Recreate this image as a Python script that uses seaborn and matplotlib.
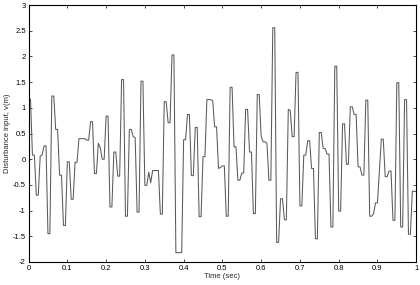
import numpy as np
import pandas as pd
import matplotlib
matplotlib.use("Agg")
import matplotlib.pyplot as plt
import seaborn as sns

# ===== DATA =====
time_s = [
    0.000, 0.005, 0.010, 0.015, 0.020, 0.025, 0.030, 0.035, 0.040, 0.045,
    0.050, 0.055, 0.060, 0.065, 0.070, 0.075, 0.080, 0.085, 0.090, 0.095,
    0.100, 0.105, 0.110, 0.115, 0.120, 0.125, 0.130, 0.145, 0.150, 0.155,
    0.160, 0.165, 0.170, 0.175, 0.180, 0.185, 0.190, 0.195, 0.200, 0.205,
    0.210, 0.215, 0.220, 0.225, 0.230, 0.235, 0.240, 0.245, 0.250, 0.255,
    0.260, 0.265, 0.270, 0.275, 0.280, 0.285, 0.290, 0.295, 0.300, 0.305,
    0.310, 0.315, 0.320, 0.335, 0.340, 0.345, 0.350, 0.355, 0.360, 0.365,
    0.370, 0.375, 0.380, 0.395, 0.400, 0.405, 0.410, 0.415, 0.420, 0.425,
    0.430, 0.435, 0.440, 0.445, 0.450, 0.455, 0.460, 0.470, 0.475, 0.480,
    0.485, 0.490, 0.495, 0.500, 0.505, 0.510, 0.515, 0.520, 0.525, 0.530,
    0.535, 0.540, 0.545, 0.550, 0.555, 0.560, 0.565, 0.570, 0.575, 0.580,
    0.585, 0.590, 0.595, 0.600, 0.605, 0.610, 0.615, 0.620, 0.625, 0.630,
    0.635, 0.640, 0.645, 0.650, 0.655, 0.660, 0.665, 0.670, 0.675, 0.680,
    0.685, 0.690, 0.695, 0.700, 0.705, 0.710, 0.715, 0.720, 0.725, 0.730,
    0.735, 0.740, 0.745, 0.750, 0.755, 0.760, 0.765, 0.770, 0.775, 0.780,
    0.785, 0.790, 0.795, 0.800, 0.805, 0.810, 0.815, 0.820, 0.825, 0.830,
    0.835, 0.840, 0.845, 0.850, 0.855, 0.860, 0.865, 0.870, 0.875, 0.880,
    0.885, 0.890, 0.895, 0.900, 0.910, 0.915, 0.920, 0.925, 0.930, 0.935,
    0.940, 0.945, 0.950, 0.955, 0.960, 0.965, 0.970, 0.975, 0.980, 0.985,
    0.990, 1.000,
]
disturbance = [
    1.17, 1.17, 0.08, 0.08, -0.70, -0.70, 0.06, 0.08, 0.26, 0.26,
    -1.45, -1.45, 1.23, 1.23, 0.58, 0.58, -0.31, -0.31, -1.29, -1.29,
    -0.05, -0.05, -0.78, -0.78, -0.06, -0.06, 0.40, 0.40, 0.37, 0.37,
    0.73, 0.73, -0.28, -0.28, 0.31, 0.22, 0.00, 0.00, 0.84, 0.84,
    -0.93, -0.93, 0.14, 0.14, -0.33, -0.33, 1.55, 1.55, -1.11, -1.11,
    0.58, 0.58, 0.44, 0.42, -1.03, -1.03, 1.52, 1.52, -0.51, -0.51,
    -0.25, -0.46, -0.22, -0.22, -1.07, -1.07, 1.12, 1.12, 0.71, 0.71,
    2.03, 2.03, -1.82, -1.82, 0.38, 0.38, 0.87, 0.87, -0.32, -0.32,
    0.62, 0.62, -1.12, -1.12, 0.05, 0.05, 1.16, 1.16, 1.14, 0.63,
    0.63, -0.18, -0.16, -0.13, -0.13, -1.11, -1.11, 1.40, 1.40, 0.24,
    0.24, -0.41, -0.41, -0.27, -0.27, 0.97, 0.97, 0.14, 0.14, -1.06,
    -1.06, 1.26, 1.26, 0.45, 0.34, 0.34, 0.31, -0.41, -0.41, 2.56,
    2.56, -1.62, -1.62, -0.77, -0.77, -1.18, -1.18, 0.97, 0.95, 0.44,
    0.44, 1.69, 1.69, -0.91, -0.91, 0.08, 0.08, 0.36, 0.36, -0.18,
    -0.18, -1.55, -1.55, 0.52, 0.52, 0.21, 0.21, 0.10, 0.10, -1.32,
    -1.32, 1.81, 1.81, -1.01, -1.01, 0.69, 0.69, -0.10, -0.10, 1.02,
    1.02, 0.87, 0.87, -0.15, -0.15, -0.31, -0.31, 1.15, 1.15, -1.11,
    -1.11, -1.06, -0.85, -0.85, 0.39, 0.39, -0.34, -0.34, -0.23, -0.23,
    -1.19, -1.19, 1.49, 1.49, -1.32, -1.32, 1.16, 1.16, -1.46, -1.46,
    -0.62, -0.63,
]
x_ticks = [0, 0.1, 0.2, 0.3, 0.4, 0.5, 0.6, 0.7, 0.8, 0.9, 1]
x_tick_labels = ["0", "0.1", "0.2", "0.3", "0.4", "0.5", "0.6", "0.7", "0.8", "0.9", "1"]
y_ticks = [-2, -1.5, -1, -0.5, 0, 0.5, 1, 1.5, 2, 2.5, 3]
y_tick_labels = ["-2", "-1.5", "-1", "-0.5", "0", "0.5", "1", "1.5", "2", "2.5", "3"]

df = pd.DataFrame({"Time": time_s, "Disturbance": disturbance})

sns.set_theme(style="ticks")
plt.rcParams["font.family"] = ["Liberation Sans", "DejaVu Sans"]

fig = plt.figure(figsize=(4.2, 2.85), dpi=100)
ax = fig.add_axes([0.068, 0.081, 0.923, 0.901])

# the signal, drawn as one grey trace
sns.lineplot(data=df, x="Time", y="Disturbance", ax=ax, sort=False,
             estimator=None, color="#5a5a5a", linewidth=0.75)

ax.set_xlim(0, 1)
ax.set_ylim(-2, 3)
ax.set_xticks(x_ticks)
ax.set_xticklabels(x_tick_labels)
ax.set_yticks(y_ticks)
ax.set_yticklabels(y_tick_labels)

# matlab-like box with inward ticks on all sides
ax.tick_params(direction="in", length=2.5, width=0.5, labelsize=5.5,
               top=True, right=True, pad=2, colors="black")
for s in ax.spines.values():
    s.set_linewidth(0.8)
    s.set_color("black")

ax.set_xlabel("Time (sec)", fontsize=5.5, labelpad=1)
ax.set_ylabel("Disturbance input, v(m)", fontsize=5.5, labelpad=1)

fig.savefig("out.png", dpi=100)
